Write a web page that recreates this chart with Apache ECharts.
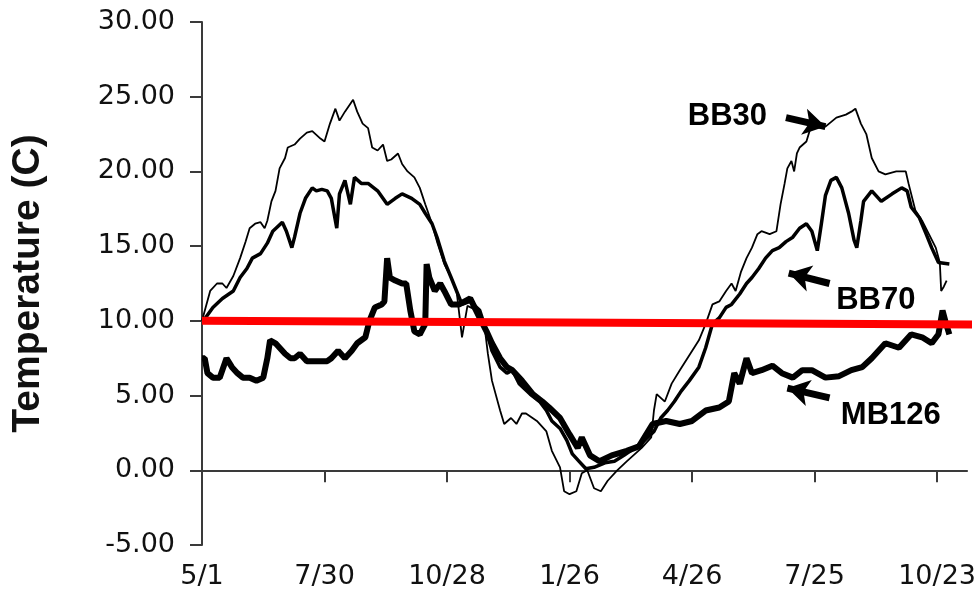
<!DOCTYPE html>
<html>
<head>
<meta charset="utf-8">
<script src="https://cdn.jsdelivr.net/npm/echarts@6/dist/echarts.min.js"></script>
<style>
  html, body { margin: 0; padding: 0; background: #fff; }
  #chart { width: 979px; height: 597px; }
</style>
</head>
<body>
<div id="chart"></div>
<script>
// days counted from 5/1, tick every 90 days
const xTickValues = [0, 90, 180, 270, 360, 450, 540]
const xTickLabels = ['5/1', '7/30', '10/28', '1/26', '4/26', '7/25', '10/23']

// [day, temperature C]
const bb30 = [
  [0, 10.0], [6, 12.0], [11, 12.5], [15, 12.5], [18, 12.2], [23, 13.0], [28, 14.2], [32, 15.3],
  [35, 16.2], [39, 16.5], [43, 16.6], [46, 16.2], [48, 16.7], [51, 18.0], [54, 18.7], [57, 20.2],
  [61, 20.9], [63, 21.6], [68, 21.8], [72, 22.2], [77, 22.6], [81, 22.7], [87, 22.2], [90, 22.0],
  [94, 23.2], [98, 24.2], [101, 23.4], [105, 24.0], [111, 24.8], [114, 24.0], [118, 23.2], [122, 22.9],
  [125, 21.6], [129, 21.4], [133, 21.8], [136, 20.7], [139, 20.8], [144, 21.2], [147, 20.5], [151, 20.0],
  [156, 19.6], [160, 18.9], [164, 17.8], [169, 16.5], [173, 15.2], [178, 13.8], [183, 12.9], [187, 12.0],
  [191, 8.9], [195, 11.0], [202, 10.7], [208, 9.3], [210, 7.8], [213, 6.0], [219, 4.0], [222, 3.1],
  [227, 3.5], [231, 3.1], [235, 3.8], [238, 3.8], [246, 3.3], [253, 2.6], [257, 1.3], [263, 0.2],
  [266, -1.4], [270, -1.6], [275, -1.4], [279, -0.2], [283, 0.0], [288, -1.2], [293, -1.4], [298, -0.7],
  [305, 0.0], [312, 0.6], [323, 1.5], [330, 2.2], [332, 4.0], [334, 5.1], [340, 4.6], [345, 5.8],
  [351, 6.7], [358, 7.7], [365, 8.7], [370, 9.8], [375, 11.1], [380, 11.3], [385, 12.0], [389, 12.5],
  [392, 12.0], [396, 13.3], [400, 14.2], [404, 14.9], [408, 15.8], [411, 16.0], [417, 15.8], [422, 16.0],
  [425, 17.8], [428, 19.2], [430, 20.2], [433, 20.7], [435, 20.0], [437, 21.2], [439, 21.6], [444, 22.0],
  [447, 22.9], [450, 23.4], [458, 23.0], [466, 23.6], [473, 23.8], [477, 24.0], [480, 24.2], [484, 23.2],
  [488, 22.5], [492, 20.9], [497, 20.0], [502, 19.8], [510, 20.0], [517, 20.0], [519, 19.2], [524, 17.4],
  [529, 16.7], [534, 15.8], [539, 14.9], [542, 13.9], [543, 12.0], [545, 12.3], [547, 12.7]
]

const bb70 = [
  [1, 10.0], [8, 10.9], [15, 11.5], [23, 12.0], [28, 12.9], [33, 13.5], [37, 14.2], [43, 14.5],
  [48, 15.2], [52, 16.0], [59, 16.6], [62, 16.0], [66, 14.9], [68, 15.6], [72, 17.2], [76, 18.2],
  [81, 18.9], [84, 18.7], [88, 18.8], [92, 18.7], [95, 18.2], [99, 16.2], [101, 18.5], [105, 19.4],
  [109, 17.8], [112, 19.6], [117, 19.2], [122, 19.2], [129, 18.7], [136, 17.8], [142, 18.2], [147, 18.5],
  [154, 18.2], [160, 17.8], [164, 17.2], [169, 16.5], [173, 15.5], [178, 14.0], [183, 12.9], [187, 12.0],
  [191, 11.1], [197, 11.3], [204, 10.7], [209, 9.3], [213, 8.0], [219, 6.9], [224, 6.5], [228, 6.7],
  [233, 5.8], [241, 5.1], [248, 4.6], [253, 4.0], [257, 3.3], [263, 2.8], [268, 2.0], [272, 1.1],
  [277, 0.6], [282, 0.1], [288, 0.2], [296, 0.5], [303, 0.6], [310, 1.0], [318, 1.5], [325, 2.0],
  [332, 2.6], [337, 3.5], [342, 4.0], [347, 4.6], [352, 5.3], [358, 6.0], [365, 6.9], [370, 8.2],
  [375, 9.8], [380, 10.2], [385, 10.9], [389, 11.1], [395, 11.8], [400, 12.5], [404, 12.9], [409, 13.5],
  [414, 14.2], [419, 14.7], [424, 14.9], [429, 15.3], [434, 15.6], [439, 16.2], [444, 16.5], [448, 16.0],
  [452, 14.7], [455, 16.5], [458, 18.4], [462, 19.4], [466, 19.6], [470, 18.9], [475, 17.2], [479, 15.4],
  [481, 14.9], [484, 16.7], [486, 18.0], [492, 18.7], [499, 18.0], [507, 18.5], [514, 18.9], [518, 18.7],
  [521, 17.6], [527, 16.9], [532, 15.8], [536, 14.9], [541, 13.9], [549, 13.8]
]

const mb126 = [
  [0, 7.5], [2, 7.5], [4, 6.5], [8, 6.2], [13, 6.2], [18, 7.5], [22, 6.9], [26, 6.5],
  [30, 6.2], [35, 6.2], [40, 6.0], [45, 6.2], [48, 7.5], [50, 8.7], [54, 8.5], [57, 8.2],
  [61, 7.8], [65, 7.5], [68, 7.5], [72, 7.8], [77, 7.3], [81, 7.3], [87, 7.3], [92, 7.3],
  [95, 7.5], [100, 8.0], [105, 7.5], [110, 8.0], [114, 8.5], [120, 8.9], [123, 10.0], [127, 10.9],
  [132, 11.1], [134, 11.3], [136, 14.2], [138, 12.9], [142, 12.7], [147, 12.5], [150, 12.5], [153, 10.7],
  [156, 9.3], [160, 9.1], [164, 9.8], [165, 13.8], [167, 12.9], [171, 12.0], [175, 12.5], [178, 12.0],
  [183, 11.1], [189, 11.1], [197, 11.5], [204, 10.2], [209, 9.3], [213, 8.5], [219, 7.5], [224, 6.9],
  [228, 6.7], [235, 6.0], [243, 5.1], [250, 4.6], [255, 4.2], [263, 3.5], [270, 2.4], [276, 1.5],
  [279, 2.2], [285, 1.0], [292, 0.6], [301, 1.0], [312, 1.3], [321, 1.6], [331, 3.1], [341, 3.3],
  [351, 3.1], [360, 3.3], [370, 4.0], [380, 4.2], [387, 4.6], [391, 6.5], [395, 5.8], [400, 7.5],
  [404, 6.5], [411, 6.7], [419, 7.0], [426, 6.5], [434, 6.2], [441, 6.7], [448, 6.7], [458, 6.2],
  [468, 6.3], [477, 6.7], [485, 6.9], [492, 7.5], [502, 8.5], [512, 8.2], [521, 9.1], [529, 8.9],
  [536, 8.5], [541, 9.1], [544, 10.7], [546, 10.0], [549, 9.1]
]

// red 10 C reference line, runs a little past the axis end
const refLine = [[0, 10.0], [570, 9.75]]

const annoLabels = ['BB30', 'BB70', 'MB126']
const annoPos = [[386, 23.65], [495, 11.35], [506, 3.7]]
const annoArrows = [
  [[429, 23.6], [458, 23.0]],
  [[461, 12.5], [431, 13.2]],
  [[461, 4.85], [430, 5.5]]
]

const chart = echarts.init(document.getElementById('chart'))

chart.setOption({
  backgroundColor: '#ffffff',
  animation: false,
  grid: {
    left: 202,
    right: 11,
    top: 22,
    bottom: 52
  },
  xAxis: {
    type: 'value',
    min: 0,
    max: 562,
    interval: 90,
    splitLine: { show: false },
    axisLine: { lineStyle: { color: '#3a3a3a', width: 2 } },
    axisTick: {
      length: 12,
      customValues: xTickValues,
      lineStyle: { color: '#3a3a3a', width: 2 }
    },
    axisLabel: {
      customValues: xTickValues,
      margin: 18,
      color: '#111',
      fontFamily: 'DejaVu Sans',
      fontSize: 27,
      formatter: v => xTickLabels[xTickValues.indexOf(v)] || ''
    }
  },
  yAxis: {
    type: 'value',
    min: -5,
    max: 30,
    interval: 5,
    name: 'Temperature (C)',
    nameLocation: 'middle',
    nameGap: 154,
    nameTextStyle: {
      color: '#111',
      fontFamily: 'Liberation Sans',
      fontWeight: 'bold',
      fontSize: 39
    },
    splitLine: { show: false },
    axisLine: { show: true, lineStyle: { color: '#3a3a3a', width: 2 } },
    axisTick: { show: true, length: 12, lineStyle: { color: '#3a3a3a', width: 2 } },
    axisLabel: {
      margin: 27,
      color: '#111',
      fontFamily: 'DejaVu Sans',
      fontSize: 27,
      formatter: v => v.toFixed(2)
    }
  },
  series: [
    {
      name: 'BB30',
      type: 'line',
      showSymbol: false,
      data: bb30,
      lineStyle: { color: '#000', width: 1.8 },
      z: 3
    },
    {
      name: 'BB70',
      type: 'line',
      showSymbol: false,
      data: bb70,
      lineStyle: { color: '#000', width: 3.5 },
      z: 3
    },
    {
      name: 'MB126',
      type: 'line',
      showSymbol: false,
      data: mb126,
      lineStyle: { color: '#000', width: 6 },
      z: 3
    },
    {
      name: 'ref',
      type: 'line',
      showSymbol: false,
      clip: false,
      data: refLine,
      lineStyle: { color: '#ff0000', width: 8 },
      z: 5
    },
    {
      name: 'labels',
      type: 'scatter',
      symbolSize: 0,
      data: annoPos,
      silent: true,
      itemStyle: { opacity: 1, color: '#000' },
      label: {
        show: true,
        position: 'inside',
        color: '#000',
        fontFamily: 'Liberation Sans',
        fontWeight: 'bold',
        fontSize: 31,
        formatter: p => annoLabels[p.dataIndex]
      },
      markLine: {
        silent: true,
        symbol: ['none', 'arrow'],
        symbolSize: [20, 22],
        label: { show: false },
        lineStyle: { color: '#000', width: 7, type: 'solid', opacity: 1 },
        data: annoArrows.map(a => [{ coord: a[0] }, { coord: a[1] }])
      },
      z: 6
    }
  ]
})
</script>
</body>
</html>
